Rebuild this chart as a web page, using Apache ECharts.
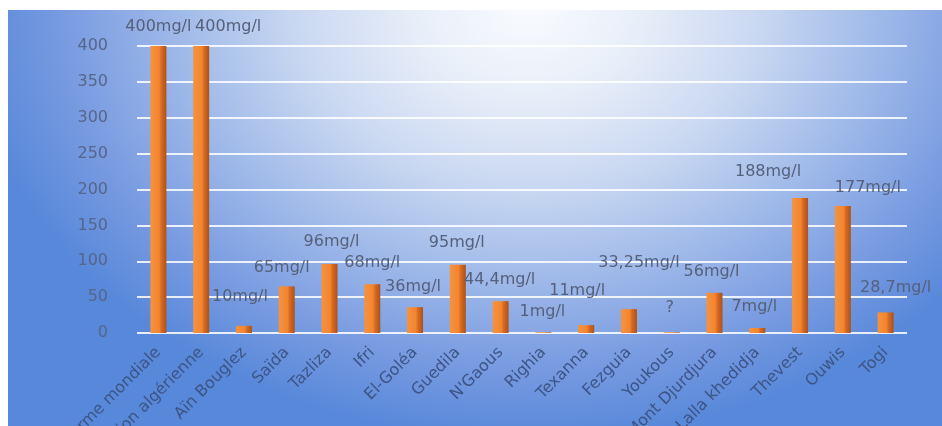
<!DOCTYPE html>
<html>
<head>
<meta charset="utf-8">
<script src="https://cdn.jsdelivr.net/npm/echarts@6/dist/echarts.min.js"></script>
<style>
  html, body { margin: 0; padding: 0; background: #ffffff; }
  #frame {
    position: absolute; left: 8px; top: 10px; width: 934px; height: 416px;
    background: radial-gradient(ellipse 560px 430px at 520px 0px,
      #f9fbfe 0%, #e8eef9 20%, #c8d7f1 42%, #a0bae9 62%, #7a9ce1 82%, #5888da 100%);
  }
  #chart { position: absolute; left: 0; top: 0; width: 942px; height: 426px; }
</style>
</head>
<body>
<div id="frame"></div>
<div id="chart"></div>
<script>
// Sites and their measured concentration (mg/l)
const sites = [
  'Norme mondiale', 'Réglementation algérienne', 'Aïn Bouglez', 'Saïda', 'Tazliza',
  'Ifri', 'El-Goléa', 'Guedila', "N'Gaous", 'Righia', 'Texanna', 'Fezguia',
  'Youkous', 'Mont Djurdjura', 'Lalla khedidja', 'Thevest', 'Ouwis', 'Togi'
];
const concentration = [400, 400, 10, 65, 96, 68, 36, 95, 44.4, 1, 11, 33.25, 1, 56, 7, 188, 177, 28.7];
// Sites whose value was not established: label shows a question mark
const unmeasured = ['Youkous'];
const yTicks = [0, 50, 100, 150, 200, 250, 300, 350, 400];

// Label nudges [dx, dy] from the top centre of each bar
const labelNudge = [
  [0, -19], [27, -19], [-4, -29], [-5, -19], [2, -22], [0, -21], [-2, -20], [-1, -22],
  [-1, -21], [-1, -20], [-9, -34], [10, -46], [-2, -24], [-3, -21], [-3, -21],
  [-32, -26], [25, -18], [10, -25]
];

const fmt = (v) => String(v).replace('.', ',') + 'mg/l';
const FONT = 'DejaVu Sans, sans-serif';

const barFill = new echarts.graphic.LinearGradient(0, 0, 1, 0, [
  { offset: 0, color: '#f7923f' },
  { offset: 0.55, color: '#f2852f' },
  { offset: 0.68, color: '#d96a22' },
  { offset: 1, color: '#a9521c' }
]);

const chart = echarts.init(document.getElementById('chart'), null, { renderer: 'canvas' });
chart.setOption({
  backgroundColor: 'transparent',
  animation: false,
  grid: { left: 137, right: 35, top: 46, bottom: 93, outerBoundsMode: 'none', containLabel: false },
  xAxis: {
    type: 'category',
    data: sites,
    axisLine: { show: false },
    axisTick: { show: false },
    axisLabel: {
      interval: 0,
      rotate: 45,
      margin: 17,
      fontSize: 16,
      fontFamily: FONT,
      color: '#3d5484'
    }
  },
  yAxis: {
    type: 'value',
    min: yTicks[0],
    max: yTicks[yTicks.length - 1],
    interval: yTicks[1] - yTicks[0],
    axisLine: { show: false },
    axisTick: { show: false },
    axisLabel: {
      margin: 29,
      fontSize: 16,
      fontFamily: FONT,
      color: '#56658a'
    },
    splitLine: {
      lineStyle: { color: 'rgba(255,255,255,0.85)', width: 2 }
    }
  },
  series: [{
    type: 'bar',
    barWidth: 16,
    data: concentration.map((v, i) => ({
      value: v,
      label: { offset: [labelNudge[i][0], labelNudge[i][1] + 8] }
    })),
    itemStyle: { color: barFill },
    label: {
      show: true,
      position: 'top',
      distance: 0,
      fontSize: 16,
      fontFamily: FONT,
      color: '#56607a',
      formatter: (p) => unmeasured.includes(p.name) ? '?' : fmt(p.value)
    }
  }]
});
</script>
</body>
</html>
